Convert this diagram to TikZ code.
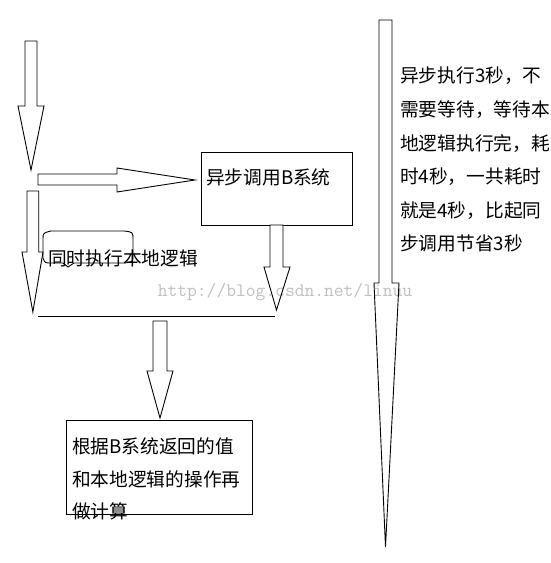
\documentclass[tikz,border=0pt]{standalone}
\usepackage{fontspec}
\newfontfamily\cjk{Noto Sans CJK SC}
\usetikzlibrary{positioning}

\tikzset{
  blk/.style={draw=black, line width=0.9pt, fill=white, line join=miter},
  box/.style={draw=black, line width=0.9pt, inner sep=0pt, anchor=north west},
  txt/.style={inner sep=0pt, align=left, font=\cjk\fontsize{18.7}{33.6}\selectfont},
  bubble/.style={draw=black, line width=0.9pt}
}

% down block arrow: x left, x right, y top, y head, head left, head right, y tip
\newcommand{\downblk}[7]{%
  \draw [blk] (#1,#3) -- (#2,#3) -- (#2,#4) -- (#6,#4) -- ({(#1+#2)/2},#7)
    -- (#5,#4) -- (#1,#4) -- cycle;}

\begin{document}
\begin{tikzpicture}[x=1pt,y=-1pt]
    \useasboundingbox (0,0) rectangle (550,563);
    % left side
    \downblk{25}{37}{41}{106}{18}{44}{170}
    \draw [blk] (38,174) -- (117,174) -- (117,168) -- (195,180) -- (117,192) -- (117,185) -- (38,185) -- cycle;
    \downblk{27}{38.7}{191}{252}{22}{43}{312}
    % call to B
    \node [box, minimum width=151pt, minimum height=73pt] (sysB) at (201,152) {};
    \node [txt, anchor=west] (sysBtxt) at (206,177) {异步调用B系统};
    \downblk{270}{283}{225}{267}{264}{290}{310}
    % local logic
    \draw [bubble] (43,258) -- (43,239) .. controls (43,233) .. (51,231) -- (124,231)
        .. controls (133,232) .. (133,240) -- (133,255) .. controls (133,262) .. (124,263)
        -- (74,263) -- (68,267) -- (63,263) -- (51,263) .. controls (45,263) .. (43,258);
    \node [txt, anchor=west] (local) at (48,258) {同时执行本地逻辑};
    % join
    \coordinate (joinL) at (38,316);
    \coordinate (joinR) at (275,316);
    \draw [line width=0.9pt] (joinL) -- (joinR);
    \downblk{153}{167}{321}{371}{147}{173}{418}
    \node [box, minimum width=186pt, minimum height=94pt] (calc) at (66,420) {};
    \node [txt, anchor=north west, font=\cjk\fontsize{18.7}{32.5}\selectfont] (calctxt) at (72,438)
        {根据B系统返回的值\\和本地逻辑的操作再\\做计算};
    % right side
    \downblk{379}{392}{20}{283}{374}{399}{547}
    \node [txt, anchor=north west] (note) at (400,67)
        {异步执行3秒，不\\需要等待，等待本\\地逻辑执行完，耗\\时4秒，一共耗时\\就是4秒，比起同\\步调用节省3秒};
    % watermark
    \node [inner sep=0pt, text=black, text opacity=0.25, font=\ttfamily\fontsize{19}{22}\selectfont] (mark) at (285,292) {http://blog.csdn.net/linuu};
\end{tikzpicture}
\end{document}
